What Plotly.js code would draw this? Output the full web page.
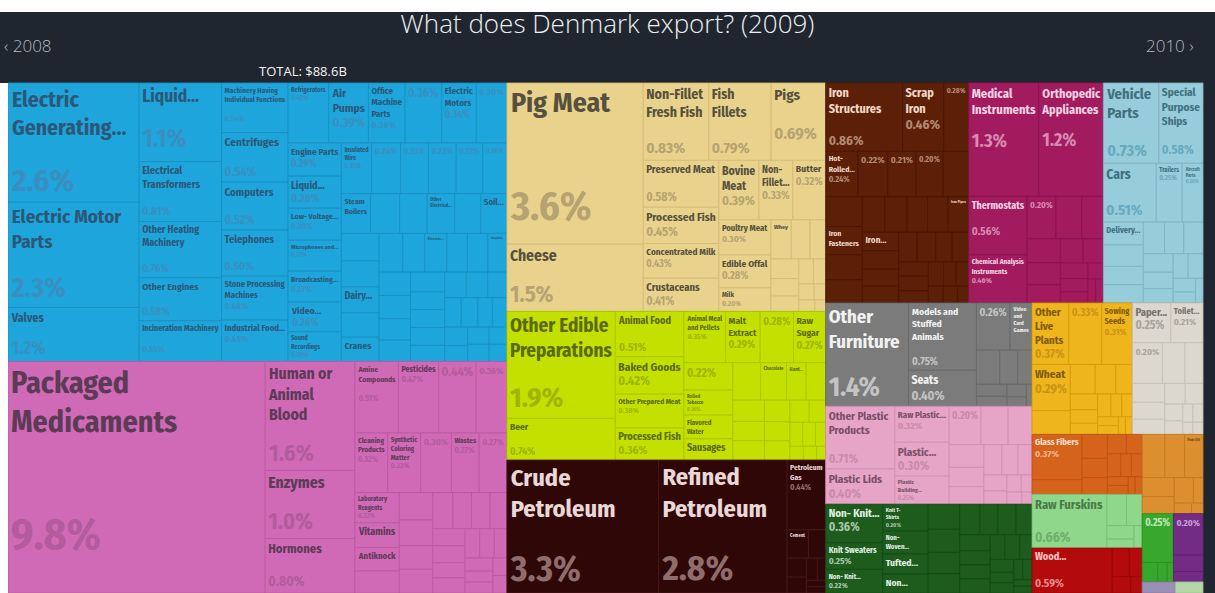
<!DOCTYPE html>
<html><head><meta charset="utf-8">
<script src="https://cdn.plot.ly/plotly-3.0.1.min.js"></script>
<style>html,body{margin:0;padding:0;background:#1f2630;overflow:hidden}#chart{width:1215px;height:593px}</style>
</head><body><div id="chart"></div>
<script>
// ---- DATA (values are % of total exports, 2009) ----
const sectors = ["Machinery","Chemical Products","Animal Products","Foodstuffs","Mineral Products","Metals","Instruments","Transportation","Miscellaneous","Plastics and Rubbers","Textiles","Vegetable Products","Paper Goods","Stone And Glass","Animal Hides","Wood Products","Animal and Vegetable Bi-Products","Footwear and Headwear","Precious Metals","Arts and Antiques","Weapons"];

const machineryNames = ["Electric<br>Generating...","Electric Motor<br>Parts","Valves","Liquid...","Electrical<br>Transformers","Other Heating<br>Machinery","Other Engines","Incineration Machinery","Machinery Having<br>Individual Functions","Centrifuges","Computers","Telephones","Stone Processing<br>Machines","Industrial Food...","Refrigerators","Air<br>Pumps","Office<br>Machine<br>Parts","","Electric<br>Motors","","Engine Parts","Liquid...","Low- Voltage...","Microphones and...","Broadcasting...","Video...","Sound<br>Recordings","Insulated<br>Wire","","","","","","Steam<br>Boilers","","","Other<br>Electrical...","","Soil...","","","Dairy...","","Cranes","","","Electric...","","","Integrated...","","","","","","","","","","","","","","","","","","","","","",""];
const machineryValues = [2.56,2.26,1.16,1.06,0.81,0.76,0.58,0.55,0.54,0.54,0.52,0.50,0.48,0.45,0.40,0.39,0.36,0.36,0.34,0.30,0.29,0.28,0.28,0.27,0.27,0.26,0.26,0.25,0.24,0.23,0.23,0.22,0.20,0.19,0.19,0.18,0.18,0.17,0.17,0.17,0.16,0.16,0.15,0.15,0.15,0.14,0.14,0.13,0.13,0.12,0.12,0.12,0.11,0.11,0.11,0.10,0.10,0.10,0.09,0.09,0.09,0.08,0.08,0.08,0.07,0.07,0.07,0.06,0.06,0.06,0.05,0.05];

const chemicalNames = ["Packaged<br>Medicaments","Human or<br>Animal<br>Blood","Enzymes","Hormones","Amine<br>Compounds","Pesticides","","","Cleaning<br>Products","Synthetic<br>Coloring<br>Matter","","Wastes","","Laboratory<br>Reagents","Vitamins","Antiknock","","","","","","","","","","","","","","","","","","","","",""];
const chemicalValues = [9.75,1.6,1.0,0.80,0.51,0.47,0.44,0.36,0.32,0.32,0.30,0.27,0.27,0.22,0.18,0.17,0.16,0.15,0.14,0.13,0.13,0.12,0.11,0.11,0.10,0.09,0.09,0.08,0.08,0.07,0.07,0.06,0.06,0.05,0.05,0.04,0.04];

const animalNames = ["Pig Meat","Cheese","Non-Fillet<br>Fresh Fish","Fish<br>Fillets","Pigs","Preserved Meat","Processed Fish","Concentrated Milk","Crustaceans","Bovine<br>Meat","Non-<br>Fillet...","Butter","Poultry Meat","Edible Offal","Milk","Whey","","","","","","","","","","",""];
const animalValues = [3.6,1.5,0.83,0.79,0.69,0.58,0.45,0.43,0.41,0.39,0.33,0.32,0.30,0.28,0.20,0.13,0.12,0.10,0.09,0.08,0.07,0.06,0.05,0.04,0.03,0.03,0.02];

const foodNames = ["Other Edible<br>Preparations","Beer","Animal Food","Baked Goods","Other Prepared Meat","Processed Fish","Animal Meal<br>and Pellets","Malt<br>Extract","","Raw<br>Sugar","","Rolled<br>Tobacco","Flavored<br>Water","Sausages","","Chocolate","Hard...","","","","","","","","","","","","","","",""];
const foodValues = [1.9,0.74,0.51,0.42,0.38,0.36,0.35,0.29,0.28,0.27,0.22,0.20,0.19,0.17,0.17,0.16,0.12,0.12,0.11,0.10,0.10,0.09,0.08,0.08,0.07,0.06,0.05,0.05,0.04,0.03,0.03,0.02];

const mineralNames = ["Crude<br>Petroleum","Refined<br>Petroleum","Petroleum<br>Gas","Cement","","","","","","",""];
const mineralValues = [3.3,2.8,0.44,0.10,0.08,0.06,0.05,0.04,0.03,0.02,0.02];

const metalNames = ["Iron<br>Structures","Scrap<br>Iron","","Hot-<br>Rolled...","","","","","","Iron<br>Fasteners","","","","","","","Iron Pipes","Iron...","","","","","","","","","","","","","","","",""];
const metalValues = [0.86,0.46,0.28,0.24,0.22,0.21,0.20,0.19,0.18,0.17,0.15,0.14,0.13,0.13,0.12,0.12,0.12,0.11,0.11,0.10,0.10,0.09,0.09,0.08,0.08,0.07,0.07,0.06,0.06,0.05,0.05,0.04,0.04,0.03];

const instrumentNames = ["Medical<br>Instruments","Orthopedic<br>Appliances","Thermostats","Chemical Analysis<br>Instruments","","","","","","","","","","","","","",""];
const instrumentValues = [1.3,1.2,0.56,0.46,0.20,0.18,0.15,0.13,0.12,0.10,0.09,0.08,0.07,0.06,0.05,0.04,0.03,0.03];

const transportNames = ["Vehicle<br>Parts","Special<br>Purpose<br>Ships","Cars","Trailers","Aircraft<br>Parts","Delivery...","","","","","","","","","","","","","",""];
const transportValues = [0.73,0.58,0.51,0.25,0.20,0.15,0.14,0.12,0.12,0.11,0.10,0.10,0.09,0.08,0.07,0.06,0.06,0.05,0.04,0.03];

const miscNames = ["Other<br>Furniture","Models and<br>Stuffed<br>Animals","Seats","","Video<br>and<br>Card<br>Games","","","","","","","",""];
const miscValues = [1.4,0.75,0.40,0.26,0.17,0.13,0.10,0.08,0.06,0.05,0.04,0.03,0.02];

const plasticNames = ["Other Plastic<br>Products","Plastic Lids","Raw Plastic...","Plastic...","Plastic<br>Building...","","","","","","","","","","","","","","",""];
const plasticValues = [0.71,0.40,0.32,0.30,0.25,0.20,0.17,0.15,0.13,0.11,0.10,0.09,0.08,0.07,0.06,0.05,0.04,0.03,0.03,0.02];

const textileNames = ["Non- Knit...","Knit Sweaters","Non- Knit...","Knit T-<br>Shirts","Non-<br>Woven...","Tufted...","Non...","","","","","","","","","","","","","","","","","","","","","",""];
const textileValues = [0.36,0.25,0.22,0.20,0.17,0.15,0.14,0.13,0.12,0.11,0.10,0.10,0.09,0.09,0.08,0.08,0.07,0.07,0.07,0.06,0.06,0.05,0.05,0.04,0.04,0.03,0.03,0.02,0.02];

const vegetableNames = ["Other<br>Live<br>Plants","","Sowing<br>Seeds","Wheat","","","","","","","","","","","","","",""];
const vegetableValues = [0.37,0.33,0.31,0.29,0.15,0.12,0.10,0.08,0.07,0.06,0.05,0.05,0.04,0.04,0.03,0.03,0.02,0.02];

const paperNames = ["Paper...","Toilet...","","","","","","","","","","","","","",""];
const paperValues = [0.25,0.21,0.20,0.15,0.12,0.10,0.09,0.08,0.07,0.06,0.05,0.04,0.03,0.03,0.02,0.02];

const stoneNames = ["Glass Fibers","","","","","","","","","","","","",""];
const stoneValues = [0.37,0.12,0.10,0.08,0.07,0.06,0.05,0.05,0.04,0.04,0.03,0.03,0.02,0.02];

const hideNames = ["Raw Furskins","","","","",""];
const hideValues = [0.66,0.10,0.08,0.06,0.04,0.03];

const woodNames = ["Wood...","","","",""];
const woodValues = [0.59,0.08,0.06,0.05,0.03];

const fatNames = ["","","Fish Oil","","","","","",""];
const fatValues = [0.16,0.14,0.13,0.10,0.09,0.08,0.04,0.03,0.02];

const footwearNames = ["","","",""];
const footwearValues = [0.25,0.05,0.03,0.02];

const preciousNames = ["","",""];
const preciousValues = [0.20,0.08,0.05];

const artNames = [""];
const artValues = [0.06];

const weaponNames = [""];
const weaponValues = [0.05];

// ---- STYLE ----
const style = {
 "Machinery":{fill:"#1ea6dc",line:"#1a8fbf",lab:"#2c5878",pct:"#3b8fc0"},
 "Chemical Products":{fill:"#d06ab6",line:"#b95aa1",lab:"#5c3b57",pct:"#b25c9d"},
 "Animal Products":{fill:"#e9d38c",line:"#d2bb76",lab:"#57503e",pct:"#b6a371"},
 "Foodstuffs":{fill:"#c3e000",line:"#a9c300",lab:"#5b6a12",pct:"#9db500"},
 "Mineral Products":{fill:"#300707",line:"#4a1a1a",lab:"#ead8d8",pct:"#8f6d6d"},
 "Metals":{fill:"#5c1f07",line:"#4a1604",lab:"#f0d8c8",pct:"#b48b75"},
 "Instruments":{fill:"#a21b5e",line:"#8a134e",lab:"#f4d4e3",pct:"#d68bb0"},
 "Transportation":{fill:"#97ccda",line:"#7fb3c1",lab:"#40707f",pct:"#69a9bd"},
 "Miscellaneous":{fill:"#7b7b7b",line:"#686868",lab:"#f2f2f2",pct:"#c4c4c4"},
 "Plastics and Rubbers":{fill:"#e6a5c7",line:"#cf8fb0",lab:"#7b4f67",pct:"#c98aab"},
 "Textiles":{fill:"#1d5c1d",line:"#154a15",lab:"#e3efe3",pct:"#a9c7a9"},
 "Vegetable Products":{fill:"#efb51d",line:"#d39c0c",lab:"#7d5b0c",pct:"#c99413"},
 "Paper Goods":{fill:"#dcd8cf",line:"#c3bfb6",lab:"#77736c",pct:"#a9a49b"},
 "Stone And Glass":{fill:"#d6631c",line:"#bb5311",lab:"#f7e2d2",pct:"#f2b48a"},
 "Animal Hides":{fill:"#8fd88b",line:"#78bf74",lab:"#4b7a48",pct:"#6fae6b"},
 "Wood Products":{fill:"#b30b0b",line:"#950707",lab:"#f5c6c6",pct:"#e58c8c"},
 "Animal and Vegetable Bi-Products":{fill:"#dd8e2f",line:"#c1781f",lab:"#6a4512",pct:"#a86a1c"},
 "Footwear and Headwear":{fill:"#38a82c",line:"#2d8f23",lab:"#dff2dc",pct:"#c3e8bd"},
 "Precious Metals":{fill:"#732c86",line:"#5f2071",lab:"#eedcf2",pct:"#c9a2d3"},
 "Arts and Antiques":{fill:"#9a8fb4",line:"#847aa0",lab:"#fff",pct:"#ddd"},
 "Weapons":{fill:"#b5d6a9",line:"#9cbf90",lab:"#445",pct:"#778"}
};

const groups = [
 [machineryNames,machineryValues],[chemicalNames,chemicalValues],[animalNames,animalValues],
 [foodNames,foodValues],[mineralNames,mineralValues],[metalNames,metalValues],
 [instrumentNames,instrumentValues],[transportNames,transportValues],[miscNames,miscValues],
 [plasticNames,plasticValues],[textileNames,textileValues],[vegetableNames,vegetableValues],
 [paperNames,paperValues],[stoneNames,stoneValues],[hideNames,hideValues],
 [woodNames,woodValues],[fatNames,fatValues],[footwearNames,footwearValues],
 [preciousNames,preciousValues],[artNames,artValues],[weaponNames,weaponValues]
];

function fmt(v){
  if (v >= 1) return (Math.round(v*10+1e-9)/10).toFixed(1) + '%';
  return (Math.round(v*100+1e-9)/100).toFixed(2) + '%';
}

const ids=["root"], labels=["Denmark"], parents=[""], values=[0], colors=["#1f2630"],
      lineColors=["#1f2630"], lineWidths=[0], texts=[""], sizes=[10], fcolors=["#fff"];

sectors.forEach((s,k)=>{
  const st = style[s];
  ids.push("s"+k); labels.push(s); parents.push("root"); values.push(0);
  colors.push(st.fill); lineColors.push("#2a2a2a"); lineWidths.push(1.5);
  texts.push(""); sizes.push(10); fcolors.push(st.lab);
  const [names, vals] = groups[k];
  vals.forEach((v,j)=>{
    const nm = names[j] || "";
    ids.push("s"+k+"p"+j);
    labels.push(nm ? nm.replace(/<br>/g,' ') : s+" (other "+(j+1)+")");
    parents.push("s"+k); values.push(v);
    colors.push(st.fill); lineColors.push(st.line); lineWidths.push(0.8);
    const ls = Math.min(30, 5 + 12*Math.sqrt(v));
    const ps = v>=1 ? ls*1.45 : ls*1.1;
    const nLines = nm ? nm.split("<br>").length : 1;
    let t = "";
    if (nm && v >= 0.1) t += "<b>"+nm+"</b>";
    if (v >= 0.2) {
      let nbr = v>=0.5 ? 2 : 1;
      if (v >= 5 || (v >= 3 && nLines === 1)) nbr = 3;
      t += (t ? "<br>".repeat(nbr) : "") +
        '<span style="font-size:'+ps.toFixed(1)+'px;color:'+st.pct+'"><b>'+fmt(v)+'</b></span>';
    }
    texts.push(t); sizes.push(ls); fcolors.push(st.lab);
  });
});

const trace = {
  type:"treemap", ids, labels, parents, values, branchvalues:"remainder",
  text: texts, textinfo:"text", textposition:"top left",
  textfont:{family:"'Fira Sans Condensed', 'DejaVu Sans Condensed', Roboto, sans-serif", size:sizes, color:fcolors},
  marker:{colors, line:{color:lineColors, width:lineWidths}, pad:{t:0,l:0,r:0,b:0}},
  tiling:{packing:"squarify", squarifyratio:1.618, pad:0},
  pathbar:{visible:false}, sort:true, hoverinfo:"label+value",
  domain:{x:[8/1215, 1203/1215], y:[0, 510/593]}
};

const layout = {
  width:1215, height:593, margin:{l:0,r:0,t:0,b:0},
  paper_bgcolor:"#1f2630", plot_bgcolor:"#1f2630",
  title:{text:"What does Denmark export? (2009)", x:0.5, xanchor:"center", y:1-24/593, yanchor:"middle", yref:"container",
         font:{family:"'Open Sans', sans-serif", size:26, color:"#eeeeee", weight:300}},
  shapes:[
    {type:"rect", xref:"paper", yref:"paper", x0:0, x1:1, y0:1-12/593, y1:1, fillcolor:"#ffffff", line:{width:0}, layer:"above"},
    {type:"rect", xref:"paper", yref:"paper", x0:0, x1:8/1215, y0:0, y1:510/593, fillcolor:"#ffffff", line:{width:0}, layer:"above"}
  ],
  annotations:[
    {text:"‹ 2008", xref:"paper", yref:"paper", x:2/1215, y:1-45/593, xanchor:"left", yanchor:"middle", showarrow:false,
     font:{family:"'Open Sans', sans-serif", size:17, color:"#b4b9bf", weight:300}},
    {text:"2010 ›", xref:"paper", yref:"paper", x:1196/1215, y:1-45/593, xanchor:"right", yanchor:"middle", showarrow:false,
     font:{family:"'Open Sans', sans-serif", size:17, color:"#b4b9bf", weight:300}},
    {text:"TOTAL: $88.6B", xref:"paper", yref:"paper", x:257/1215, y:1-71/593, xanchor:"left", yanchor:"middle", showarrow:false,
     font:{family:"'Open Sans', sans-serif", size:13, color:"#f4f4f4"}}
  ]
};

Plotly.newPlot("chart",[trace],layout,{displayModeBar:false,staticPlot:true});
</script></body></html>
